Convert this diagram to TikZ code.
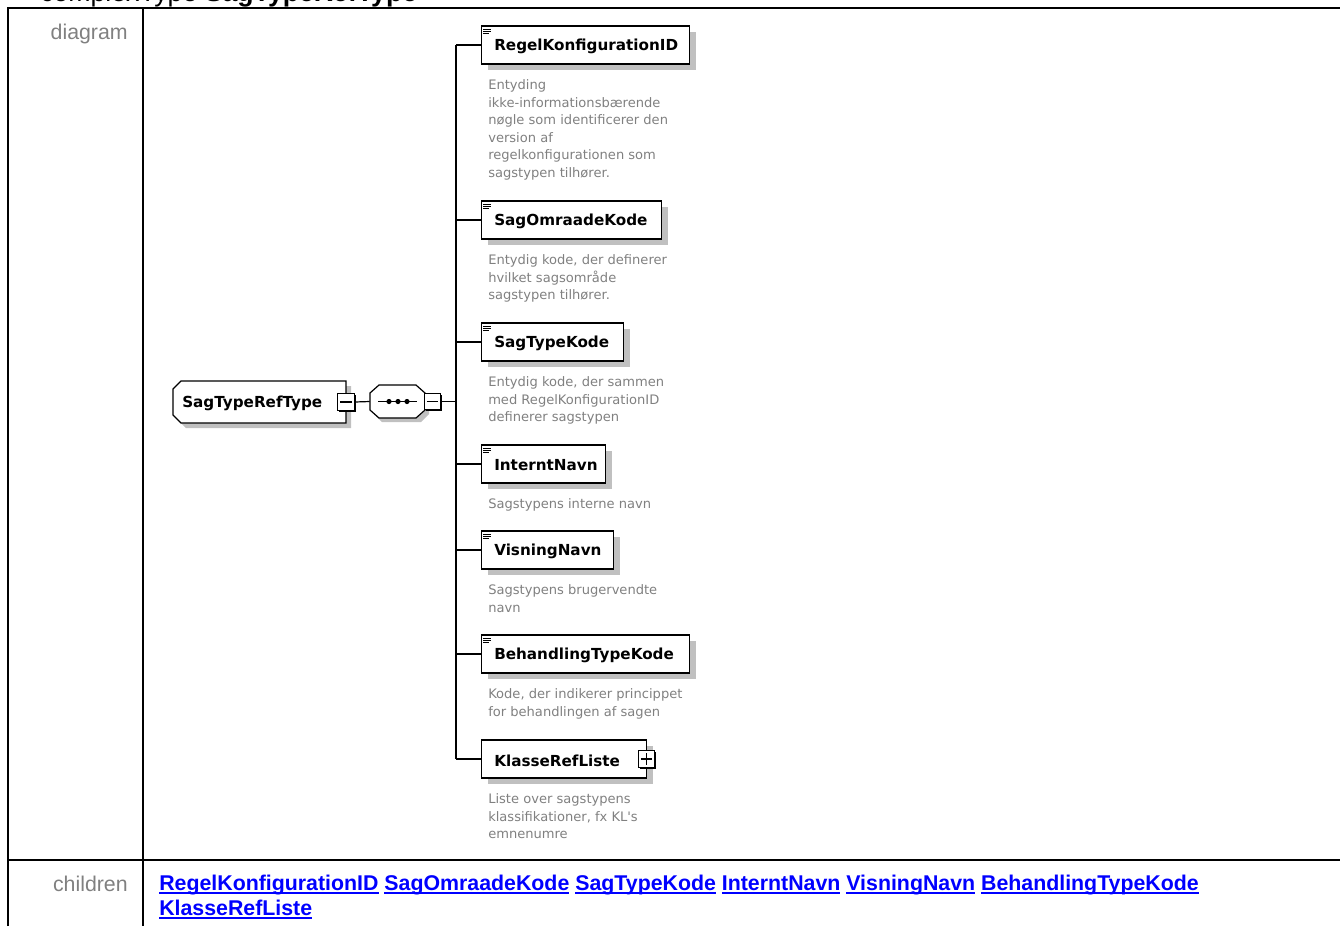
\documentclass[tikz,border=0pt]{standalone}
\usepackage{fontspec}
\setmainfont{Liberation Sans}
\newfontfamily\dvs{DejaVu Sans}
\usetikzlibrary{calc,shadows}
\definecolor{shd}{RGB}{192,192,192}
\definecolor{dsc}{RGB}{128,128,128}
\definecolor{lbl}{RGB}{128,128,128}
\definecolor{lnk}{RGB}{0,0,255}
\newcommand\myul[1]{\setbox0\hbox{#1}\rlap{\rule[-3pt]{\wd0}{1.5pt}}\box0\relax}
\tikzset{
  ebox/.style={draw, line width=0.9pt, fill=white, inner sep=0pt, minimum height=28.5pt,
    drop shadow={shadow xshift=4.5pt, shadow yshift=-4.5pt, fill=shd, opacity=1}},
  etitle/.style={inner sep=0pt, font=\dvs\bfseries\fontsize{11.4pt}{13pt}\selectfont},
  edesc/.style={inner sep=0pt, align=left, text=dsc, font=\dvs\fontsize{9.8pt}{13.1pt}\selectfont},
  pm/.style={draw, fill=white, line width=0.9pt, minimum size=12.5pt, inner sep=0pt,
    drop shadow={shadow xshift=1.1pt, shadow yshift=-1.1pt, fill=black, opacity=1}},
  conn/.style={line width=0.9pt},
  tline/.style={line width=1.6pt},
  lbltext/.style={inner sep=0pt, text=lbl, font=\fontsize{16pt}{19pt}\selectfont},
  lnktext/.style={inner sep=0pt, text=lnk, font=\bfseries\fontsize{16pt}{19pt}\selectfont},
  icn/.style={line width=0.75pt}
}
\newcommand\elem[5]{%
  \node[ebox, minimum width=#3*0.75pt, anchor=west] (#1) at (481,#2) {};
  \node[etitle, anchor=west] (#1t) at (494,#2+1.5) {#4};
  \draw[icn] (483,#2-16) -- (491,#2-16) (483,#2-14) -- (491,#2-14) (483,#2-12) -- (489,#2-12);
  \node[edesc, anchor=north west] (#1d) at (488,#2+34.5) {#5};
}
\begin{document}
\begin{tikzpicture}[x=0.75pt,y=-0.75pt]
\useasboundingbox (0,0) rectangle (1340,926);

% header (cut)
\node[inner sep=0pt, anchor=base west, font=\fontsize{20pt}{23pt}\selectfont] (hdr) at (40,1.5) {complexType \textbf{SagTypeRefType}};

% table
\draw[tline] (8,926) -- (8,8) -- (1340,8);
\draw[tline] (143,8) -- (143,926);
\draw[tline] (8,860) -- (1340,860);
\node[lbltext, anchor=base east] (ldiag) at (128,39) {diagram};
\node[lbltext, anchor=base east] (lchild) at (128,891) {children};

% complex type
\fill[shd] (178,394) -- (186,386) -- (351,386) -- (351,428) -- (186,428) -- (178,420) -- cycle;
\draw[fill=white, line width=0.9pt] (173,389) -- (181,381) -- (346,381) -- (346,423) -- (181,423) -- (173,415) -- cycle;
\node[etitle, anchor=west] (ct) at (182,403) {SagTypeRefType};
\node[pm] (m1) at (346,402) {};
\draw[line width=0.9pt] ([xshift=2.5pt]m1.west) -- ([xshift=-2.5pt]m1.east);

% sequence
\fill[shd] (374,397) -- (382,389) -- (421,389) -- (429,397) -- (429,414) -- (421,422) -- (382,422) -- (374,414) -- cycle;
\draw[fill=white, line width=0.9pt] (370,393) -- (379,385) -- (416,385) -- (425,393) -- (425,410) -- (416,418) -- (379,418) -- (370,410) -- cycle;
\node[inner sep=0pt, minimum width=41.25pt, minimum height=24.75pt] (sq) at (397.5,401.5) {};
\draw[line width=0.9pt] (378,401.5) -- (417,401.5);
\foreach \dx in {389,398,407} \fill (\dx,401.5) circle (2.6);
\node[pm] (m2) at (432.5,401.5) {};
\draw[line width=0.9pt] ([xshift=2.5pt]m2.west) -- ([xshift=-2.5pt]m2.east);

\draw[conn] (m1.east) -- (sq.west);
\coordinate (tj) at (456,401.5);
\draw[conn] (m2.east) -- (tj);

% elements
\elem{e1}{45}{208}{RegelKonfigurationID}{Entyding\\ikke-informationsbærende\\nøgle som identificerer den\\version af\\regelkonfigurationen som\\sagstypen tilhører.}
\elem{e2}{220}{180}{SagOmraadeKode}{Entydig kode, der definerer\\hvilket sagsområde\\sagstypen tilhører.}
\elem{e3}{342}{142}{SagTypeKode}{Entydig kode, der sammen\\med RegelKonfigurationID\\definerer sagstypen}
\elem{e4}{464}{124}{InterntNavn}{Sagstypens interne navn}
\elem{e5}{550}{132}{VisningNavn}{Sagstypens brugervendte\\navn}
\elem{e6}{654}{208}{BehandlingTypeKode}{Kode, der indikerer princippet\\for behandlingen af sagen}
% KlasseRefListe (no icon)
\node[ebox, minimum width=123.75pt, anchor=west] (e7) at (481,759) {};
\node[etitle, anchor=west] (e7t) at (494,760.5) {KlasseRefListe};
\node[edesc, anchor=north west] (e7d) at (488,793.5) {Liste over sagstypens\\klassifikationer, fx KL's\\emnenumre};
\node[pm] (p7) at (646.5,759) {};
\draw[line width=0.9pt] ([xshift=2.5pt]p7.west) -- ([xshift=-2.5pt]p7.east) ([yshift=2.5pt]p7.south) -- ([yshift=-2.5pt]p7.north);

\draw[conn] (e1.west -| tj) -- (e7.west -| tj);
\foreach \e in {e1,e2,e3,e4,e5,e6,e7} \draw[conn] (\e.west -| tj) -- (\e.west);

% children links
\node[lnktext, anchor=base west] (ch1) at (159,890) {\myul{RegelKonfigurationID} \myul{SagOmraadeKode} \myul{SagTypeKode} \myul{InterntNavn} \myul{VisningNavn} \myul{BehandlingTypeKode}};
\node[lnktext, anchor=base west] (ch2) at (159,915) {\myul{KlasseRefListe}};
\end{tikzpicture}
\end{document}
